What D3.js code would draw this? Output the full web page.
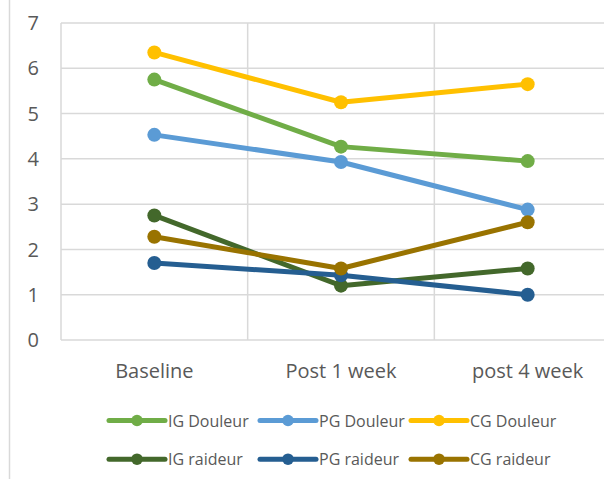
<!DOCTYPE html>
<html>
<head>
<meta charset="utf-8">
<script src="https://cdn.jsdelivr.net/npm/d3@7"></script>
<style>
body { margin: 0; background: #fff; }
text { font-family: "Open Sans", sans-serif; fill: #595959; }
</style>
</head>
<body>
<div id="chart"></div>
<script>
var WIDTH = 604
var HEIGHT = 479

// data
var periods = ["Baseline", "Post 1 week", "post 4 week"]
var seriesNames = ["IG Douleur", "PG Douleur", "CG Douleur", "IG raideur", "PG raideur", "CG raideur"]
var igDouleur = [5.75, 4.27, 3.95]
var pgDouleur = [4.53, 3.93, 2.88]
var cgDouleur = [6.35, 5.25, 5.65]
var igRaideur = [2.75, 1.2, 1.58]
var pgRaideur = [1.7, 1.43, 1.0]
var cgRaideur = [2.28, 1.58, 2.6]
var yTicks = [0, 1, 2, 3, 4, 5, 6, 7]
var colors = ["#70ad47", "#5b9bd5", "#ffc000", "#43682b", "#255e91", "#997300"]

var seriesValues = [igDouleur, pgDouleur, cgDouleur, igRaideur, pgRaideur, cgRaideur]
var series = seriesNames.map(function(n, i){
    return {name: n, color: colors[i], values: seriesValues[i]}
})

var plotLeft = 61
var plotRight = 621
var plotTop = 23
var plotBottom = 340

var svg = d3.select("#chart").append("svg")
    .attr("width", WIDTH)
    .attr("height", HEIGHT)

var x = d3.scaleBand().domain(periods).range([plotLeft, plotRight]).padding(0)
var y = d3.scaleLinear().domain([0, 7]).range([plotBottom, plotTop])

// chart area border (left side only visible)
svg.append("line")
    .attr("x1", 9.5).attr("x2", 9.5)
    .attr("y1", 0).attr("y2", HEIGHT)
    .attr("stroke", "#d9d9d9").attr("stroke-width", 1.5)

// horizontal gridlines
svg.selectAll(".hgrid")
    .data(yTicks)
    .enter()
    .append("line")
    .attr("class", "hgrid")
    .attr("x1", plotLeft).attr("x2", plotRight)
    .attr("y1", function(d){ return y(d) })
    .attr("y2", function(d){ return y(d) })
    .attr("stroke", "#d9d9d9").attr("stroke-width", 1.5)

// vertical gridlines at band edges
var edges = periods.map(function(p){ return x(p) }).concat([plotRight])
svg.selectAll(".vgrid")
    .data(edges)
    .enter()
    .append("line")
    .attr("class", "vgrid")
    .attr("x1", function(d){ return d }).attr("x2", function(d){ return d })
    .attr("y1", plotTop).attr("y2", plotBottom)
    .attr("stroke", "#d9d9d9").attr("stroke-width", 1.5)

// y tick labels
svg.selectAll(".ytick")
    .data(yTicks)
    .enter()
    .append("text")
    .attr("class", "ytick")
    .attr("x", 39)
    .attr("y", function(d){ return y(d) })
    .attr("dy", "0.36em")
    .attr("text-anchor", "end")
    .style("font-size", "20px")
    .text(function(d){ return d })

// x labels
svg.selectAll(".xlabel")
    .data(periods)
    .enter()
    .append("text")
    .attr("class", "xlabel")
    .attr("x", function(d){ return x(d) + x.bandwidth() / 2 })
    .attr("y", 378)
    .attr("text-anchor", "middle")
    .style("font-size", "20px")
    .text(function(d){ return d })

var line = d3.line()
    .x(function(d, i){ return x(periods[i]) + x.bandwidth() / 2 })
    .y(function(d){ return y(d) })

var g = svg.selectAll(".series")
    .data(series)
    .enter()
    .append("g")
    .attr("class", "series")

g.append("path")
    .attr("d", function(d){ return line(d.values) })
    .attr("fill", "none")
    .attr("stroke", function(d){ return d.color })
    .attr("stroke-width", 5)
    .attr("stroke-linejoin", "round")

g.selectAll("circle")
    .data(function(d){ return d.values.map(function(v, i){ return {v: v, i: i, color: d.color} }) })
    .enter()
    .append("circle")
    .attr("cx", function(d){ return x(periods[d.i]) + x.bandwidth() / 2 })
    .attr("cy", function(d){ return y(d.v) })
    .attr("r", 7)
    .attr("fill", function(d){ return d.color })

// legend: 3 columns, 2 rows
var legend = svg.selectAll(".legend")
    .data(series)
    .enter()
    .append("g")
    .attr("class", "legend")
    .attr("transform", function(d, i){
        return "translate(" + (109 + (i % 3) * 151) + "," + (420.5 + Math.floor(i / 3) * 38.7) + ")"
    })

legend.append("line")
    .attr("x1", 0).attr("x2", 56)
    .attr("y1", 0).attr("y2", 0)
    .attr("stroke", function(d){ return d.color })
    .attr("stroke-width", 5)
    .attr("stroke-linecap", "round")

legend.append("circle")
    .attr("cx", 28).attr("cy", 0).attr("r", 5.8)
    .attr("fill", function(d){ return d.color })

legend.append("text")
    .attr("x", 59)
    .attr("y", 6)
    .style("font-size", "16px")
    .text(function(d){ return d.name })
</script>
</body>
</html>
